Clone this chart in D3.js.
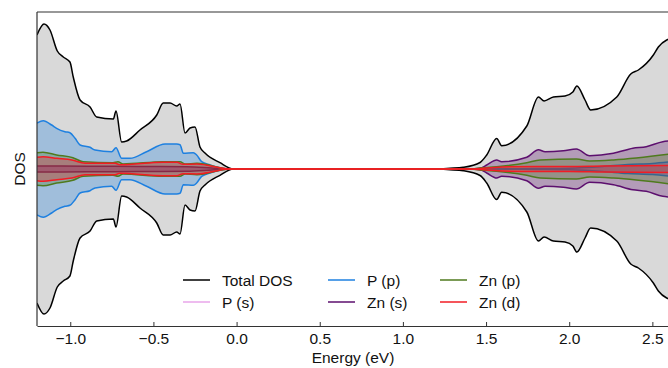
<!DOCTYPE html>
<html>
<head>
<meta charset="utf-8">
<script src="https://cdn.jsdelivr.net/npm/d3@7"></script>
<style>
  html, body { margin: 0; padding: 0; background: #fff; }
  svg { display: block; font-family: "Liberation Sans", Arial, sans-serif; }
</style>
</head>
<body>
<svg id="chart" width="668" height="368"></svg>
<script>
// Projected density of states, drawn mirrored about zero.
// Each series: [energy (eV), DOS (arb. units)]
const totalDOS = [
  [-1.2, 13.4], [-1.158, 14.5], [-1.122, 13.9], [-1.078, 11.8], [-1.042, 11.2],
  [-1.002, 10.7], [-0.982, 9.2], [-0.941, 6.9], [-0.881, 6.2], [-0.841, 5.2],
  [-0.741, 5.0], [-0.725, 5.8], [-0.691, 2.7], [-0.661, 2.8], [-0.581, 3.9],
  [-0.48, 5.4], [-0.441, 6.6], [-0.4, 6.6], [-0.36, 6.3], [-0.34, 6.5],
  [-0.31, 3.6], [-0.28, 4.1], [-0.25, 4.2], [-0.22, 2.2], [-0.19, 1.6],
  [-0.1, 0.63], [-0.02, 0], [1.2, 0], [1.283, 0.07], [1.363, 0.17],
  [1.464, 0.65], [1.504, 1.4], [1.564, 3.05], [1.594, 2.33], [1.745, 4.3],
  [1.815, 7.2], [1.849, 6.8], [1.905, 7.2], [1.975, 7.3], [2.022, 7.7],
  [2.046, 8.3], [2.095, 6.9], [2.129, 5.9], [2.286, 7.2], [2.37, 9.5],
  [2.416, 9.9], [2.506, 11.4], [2.536, 12.2], [2.586, 12.9], [2.6, 13.0]
];
const pS = [
  [-1.2, 0.12], [-0.6, 0.11], [-0.25, 0.1], [-0.05, 0], [1.45, 0],
  [1.8, 0.05], [2.0, 0.08], [2.2, 0.2], [2.4, 0.4], [2.6, 0.6]
];
const pP = [
  [-1.2, 4.6], [-1.162, 4.83], [-1.112, 4.4], [-1.082, 4.07], [-1.032, 3.73],
  [-1.002, 3.63], [-0.971, 3.07], [-0.941, 2.4], [-0.881, 2.17], [-0.851, 1.9],
  [-0.751, 1.73], [-0.725, 2.13], [-0.691, 1.07], [-0.641, 1.07], [-0.541, 1.73],
  [-0.43, 2.5], [-0.36, 2.5], [-0.34, 2.43], [-0.32, 1.57], [-0.26, 1.63],
  [-0.24, 1.4], [-0.21, 0.73], [-0.16, 0.4], [-0.04, 0], [1.45, 0],
  [1.8, 0.04], [2.0, 0.08], [2.2, 0.25], [2.35, 0.45], [2.5, 0.55], [2.6, 0.7]
];
const znS = [
  [-1.2, 0.3], [-0.9, 0.28], [-0.6, 0.26], [-0.3, 0.22], [-0.15, 0.1],
  [-0.04, 0], [1.4, 0], [1.464, 0.07], [1.504, 0.4], [1.564, 0.9],
  [1.594, 0.73], [1.745, 1.17], [1.815, 1.93], [1.855, 1.73], [1.965, 1.83],
  [2.043, 2.0], [2.123, 1.33], [2.266, 1.57], [2.383, 2.07], [2.463, 2.23],
  [2.563, 2.73], [2.6, 2.8]
];
const znP = [
  [-1.2, 1.63], [-1.164, 1.67], [-1.082, 1.4], [-0.984, 1.13], [-0.923, 0.73],
  [-0.743, 0.63], [-0.713, 0.73], [-0.683, 0.5], [-0.442, 0.73], [-0.34, 0.73],
  [-0.31, 0.5], [-0.238, 0.57], [-0.04, 0], [1.4, 0], [1.464, 0.1],
  [1.564, 0.23], [1.745, 0.63], [1.825, 0.9], [2.043, 1.0], [2.123, 0.8],
  [2.266, 0.9], [2.6, 1.48]
];
const znD = [
  [-1.2, 1.17], [-1.164, 1.23], [-1.08, 1.07], [-0.99, 0.9], [-0.911, 0.57],
  [-0.731, 0.57], [-0.701, 0.43], [-0.442, 0.67], [-0.358, 0.67], [-0.322, 0.47],
  [-0.238, 0.5], [-0.04, 0], [1.4, 0], [1.5, 0.1], [1.6, 0.2],
  [1.8, 0.25], [2.0, 0.25], [2.2, 0.3], [2.6, 0.35]
];

const seriesNames = ["Total DOS", "P (s)", "P (p)", "Zn (s)", "Zn (p)", "Zn (d)"];
const seriesData = [totalDOS, pS, pP, znS, znP, znD];
const lineColors = ["#000000", "#e9a6ea", "#1e80e0", "#5c0f6e", "#4f7a1e", "#f21c24"];
const fillColors = ["#d9d9d9", "#e9a6ea", "#1e80e0", "#5c0f6e", "#4f7a1e", "#f21c24"];
const fillOpacity = [1, 0.3, 0.3, 0.3, 0.3, 0.3];

const xTicks = [-1.0, -0.5, 0.0, 0.5, 1.0, 1.5, 2.0, 2.5];
const xDomain = [-1.2, 2.6];
const yDomain = [-15.7, 15.7];

const svg = d3.select("#chart");
const margin = { left: 37, top: 12, right: 669, bottom: 326 };

const x = d3.scaleLinear().domain(xDomain).range([margin.left, margin.right]);
const y = d3.scaleLinear().domain(yDomain).range([margin.bottom, margin.top]);

svg.append("defs").append("clipPath").attr("id", "plotClip")
  .append("rect")
  .attr("x", margin.left).attr("y", margin.top)
  .attr("width", margin.right - margin.left)
  .attr("height", margin.bottom - margin.top);

const plot = svg.append("g").attr("clip-path", "url(#plotClip)");

const curve = d3.curveMonotoneX;
const area = d3.area().curve(curve)
  .x(d => x(d[0])).y0(d => y(-d[1])).y1(d => y(d[1]));
const upper = d3.line().curve(curve).x(d => x(d[0])).y(d => y(d[1]));
const lower = d3.line().curve(curve).x(d => x(d[0])).y(d => y(-d[1]));

seriesData.forEach((data, i) => {
  plot.append("path").datum(data)
    .attr("d", area)
    .attr("fill", fillColors[i])
    .attr("fill-opacity", fillOpacity[i])
    .attr("stroke", "none");
  [upper, lower].forEach(gen => {
    plot.append("path").datum(data)
      .attr("d", gen)
      .attr("fill", "none")
      .attr("stroke", lineColors[i])
      .attr("stroke-width", 1.5)
      .attr("stroke-linejoin", "round");
  });
});

// Axes frame
const frame = svg.append("g").attr("stroke", "#333").attr("stroke-width", 1.2);
frame.append("line").attr("x1", margin.left).attr("x2", margin.left)
  .attr("y1", margin.top).attr("y2", margin.bottom);
frame.append("line").attr("x1", margin.left).attr("x2", margin.right)
  .attr("y1", margin.top).attr("y2", margin.top);
frame.append("line").attr("x1", margin.right).attr("x2", margin.right)
  .attr("y1", margin.top).attr("y2", margin.bottom);

const fmt = d => (d < 0 ? "\u2212" : "") + Math.abs(d).toFixed(1);
const xAxis = d3.axisBottom(x).tickValues(xTicks).tickFormat(fmt)
  .tickSizeInner(-4).tickSizeOuter(0).tickPadding(7);
const gx = svg.append("g").attr("transform", `translate(0,${margin.bottom})`).call(xAxis);
gx.select(".domain").attr("stroke", "#333").attr("stroke-width", 1.2);
gx.selectAll(".tick line").attr("stroke", "#333").attr("stroke-width", 1);
gx.selectAll(".tick text").attr("font-size", 15.5).attr("fill", "#111")
  .attr("font-family", "'Liberation Sans', Arial, sans-serif");

svg.append("text")
  .attr("x", (margin.left + margin.right) / 2).attr("y", 363)
  .attr("text-anchor", "middle").attr("font-size", 15.5).attr("fill", "#111")
  .text("Energy (eV)");

svg.append("text")
  .attr("transform", `translate(24.5,${(margin.top + margin.bottom) / 2}) rotate(-90)`)
  .attr("text-anchor", "middle").attr("font-size", 15.5).attr("fill", "#111")
  .text("DOS");

// Legend: three columns, filled column by column
const legendCols = [183, 328, 440];
const legendRows = [280, 302];
const legend = svg.append("g");
seriesNames.forEach((name, i) => {
  const cx = legendCols[Math.floor(i / 2)];
  const cy = legendRows[i % 2];
  legend.append("line")
    .attr("x1", cx).attr("x2", cx + 27).attr("y1", cy).attr("y2", cy)
    .attr("stroke", lineColors[i]).attr("stroke-width", 1.5);
  legend.append("text")
    .attr("x", cx + 39).attr("y", cy + 5.5)
    .attr("font-size", 15.5).attr("fill", "#111")
    .text(name);
});
</script>
</body>
</html>
